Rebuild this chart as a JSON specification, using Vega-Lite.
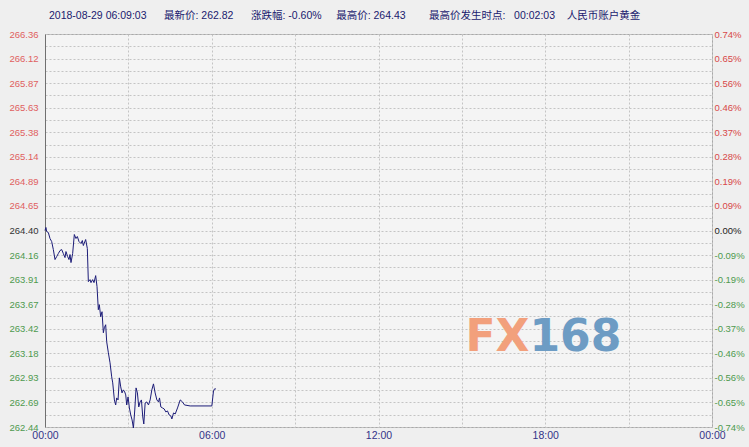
{
  "$schema": "https://vega.github.io/schema/vega-lite/v6.json",
  "autosize": {"type": "none"},
  "width": 667,
  "height": 393,
  "padding": {"left": 45, "top": 34, "right": 37, "bottom": 20},
  "background": "#efefef",
  "title": {
    "text": "2018-08-29 06:09:03\u00a0\u00a0\u00a0\u00a0\u00a0\u00a0最新价: 262.82\u00a0\u00a0\u00a0\u00a0\u00a0\u00a0涨跌幅: -0.60%\u00a0\u00a0\u00a0\u00a0\u00a0最高价: 264.43\u00a0\u00a0\u00a0\u00a0\u00a0\u00a0\u00a0\u00a0最高价发生时点:\u00a0\u00a0 00:02:03\u00a0\u00a0\u00a0\u00a0人民币账户黄金",
    "anchor": "start",
    "frame": "group",
    "dx": 4,
    "offset": 8,
    "font": "Liberation Sans, Noto Sans CJK SC",
    "fontSize": 10.5,
    "fontWeight": "normal",
    "color": "#1a1a6e"
  },
  "config": {
    "view": {"fill": "#f4f4f4", "stroke": "#a8a8a8", "strokeWidth": 1},
    "axis": {"labelFont": "Liberation Sans", "labelFontSize": 10, "ticks": false}
  },
  "datasets": {
    "gold": [
      {"minute": 0, "price": 264.40},
      {"minute": 2.05, "price": 264.43},
      {"minute": 3.6, "price": 264.39},
      {"minute": 7.2, "price": 264.38},
      {"minute": 10.8, "price": 264.32},
      {"minute": 14.4, "price": 264.29},
      {"minute": 18, "price": 264.21},
      {"minute": 21.6, "price": 264.11},
      {"minute": 25.2, "price": 264.14},
      {"minute": 28.8, "price": 264.17},
      {"minute": 32.4, "price": 264.20},
      {"minute": 36, "price": 264.21},
      {"minute": 39.6, "price": 264.17},
      {"minute": 43.2, "price": 264.13},
      {"minute": 45.3, "price": 264.19},
      {"minute": 48.9, "price": 264.14},
      {"minute": 51.8, "price": 264.11},
      {"minute": 54, "price": 264.16},
      {"minute": 56.1, "price": 264.08},
      {"minute": 59.7, "price": 264.17},
      {"minute": 63.3, "price": 264.36},
      {"minute": 66.9, "price": 264.32},
      {"minute": 69.8, "price": 264.34},
      {"minute": 73.4, "price": 264.29},
      {"minute": 77.7, "price": 264.27},
      {"minute": 80.6, "price": 264.30},
      {"minute": 82.8, "price": 264.25},
      {"minute": 87.8, "price": 264.31},
      {"minute": 91.4, "price": 264.22},
      {"minute": 93.6, "price": 263.89},
      {"minute": 97.2, "price": 263.91},
      {"minute": 99.3, "price": 263.88},
      {"minute": 102.9, "price": 263.91},
      {"minute": 105.8, "price": 263.88},
      {"minute": 109.4, "price": 263.95},
      {"minute": 112.3, "price": 263.84},
      {"minute": 115.1, "price": 263.61},
      {"minute": 117.3, "price": 263.66},
      {"minute": 120.2, "price": 263.54},
      {"minute": 123.1, "price": 263.59},
      {"minute": 126, "price": 263.38},
      {"minute": 128.1, "price": 263.43},
      {"minute": 131, "price": 263.46},
      {"minute": 133.2, "price": 263.29},
      {"minute": 136.8, "price": 263.18},
      {"minute": 140.4, "price": 263.08},
      {"minute": 144, "price": 262.94},
      {"minute": 146.2, "price": 262.88},
      {"minute": 149.8, "price": 262.71},
      {"minute": 152.6, "price": 262.66},
      {"minute": 154.8, "price": 262.73},
      {"minute": 157.7, "price": 262.71},
      {"minute": 160.6, "price": 262.93},
      {"minute": 163.5, "price": 262.84},
      {"minute": 166.3, "price": 262.78},
      {"minute": 169.2, "price": 262.81},
      {"minute": 172.1, "price": 262.79},
      {"minute": 174.3, "price": 262.76},
      {"minute": 176.4, "price": 262.66},
      {"minute": 179.3, "price": 262.74},
      {"minute": 182.2, "price": 262.63},
      {"minute": 185.1, "price": 262.56},
      {"minute": 188, "price": 262.51},
      {"minute": 190.9, "price": 262.43},
      {"minute": 193.8, "price": 262.61},
      {"minute": 196.6, "price": 262.83},
      {"minute": 199.5, "price": 262.78},
      {"minute": 202.4, "price": 262.64},
      {"minute": 205.3, "price": 262.69},
      {"minute": 208.2, "price": 262.71},
      {"minute": 211.1, "price": 262.54},
      {"minute": 213.3, "price": 262.47},
      {"minute": 216.2, "price": 262.68},
      {"minute": 219.8, "price": 262.69},
      {"minute": 223.4, "price": 262.66},
      {"minute": 227, "price": 262.71},
      {"minute": 230.6, "price": 262.81},
      {"minute": 234.2, "price": 262.87},
      {"minute": 237.8, "price": 262.78},
      {"minute": 241.5, "price": 262.71},
      {"minute": 245.1, "price": 262.69},
      {"minute": 247.2, "price": 262.73},
      {"minute": 250.1, "price": 262.64},
      {"minute": 253.7, "price": 262.63},
      {"minute": 257.3, "price": 262.62},
      {"minute": 260.9, "price": 262.59},
      {"minute": 264.5, "price": 262.60},
      {"minute": 268.1, "price": 262.56},
      {"minute": 271.7, "price": 262.55},
      {"minute": 273.9, "price": 262.52},
      {"minute": 277.5, "price": 262.58},
      {"minute": 281.1, "price": 262.57},
      {"minute": 286.1, "price": 262.63},
      {"minute": 291.9, "price": 262.71},
      {"minute": 296.9, "price": 262.69},
      {"minute": 301.2, "price": 262.66},
      {"minute": 313.4, "price": 262.65},
      {"minute": 360.2, "price": 262.65},
      {"minute": 363.8, "price": 262.80},
      {"minute": 366, "price": 262.82},
      {"minute": 369, "price": 262.82}
    ]
  },
  "layer": [
    {
      "data": {"values": [{"part": "FX"}]},
      "mark": {"type": "text", "align": "right", "baseline": "middle", "font": "DejaVu Sans", "fontWeight": "bold", "fontSize": 44, "color": "#f2a07c"},
      "encoding": {
        "x": {"datum": 1046, "type": "quantitative", "scale": {"domain": [0, 1440], "nice": false, "zero": false}},
        "y": {"datum": 263.33, "type": "quantitative", "scale": {"domain": [262.44, 266.36], "nice": false, "zero": false}, "axis": null},
        "text": {"field": "part"}
      }
    },
    {
      "data": {"values": [{"part": "168"}]},
      "mark": {"type": "text", "align": "left", "baseline": "middle", "font": "DejaVu Sans", "fontWeight": "bold", "fontSize": 44, "color": "#6d9cc4"},
      "encoding": {
        "x": {"datum": 1046, "type": "quantitative"},
        "y": {"datum": 263.33, "type": "quantitative", "axis": null},
        "text": {"field": "part"}
      }
    },
    {
      "data": {"name": "gold"},
      "mark": {"type": "line", "color": "#1c1c78", "strokeWidth": 1, "interpolate": "linear"},
      "encoding": {
        "x": {
          "field": "minute", "type": "quantitative",
          "scale": {"domain": [0, 1440], "nice": false, "zero": false},
          "axis": {
            "title": null,
            "values": [0, 180, 360, 540, 720, 900, 1080, 1260, 1440],
            "labelExpr": "datum.value % 360 == 0 ? ((floor(datum.value / 60) % 24 < 10 ? '0' : '') + (floor(datum.value / 60) % 24) + ':00') : ''",
            "labelColor": "#333388",
            "labelFontSize": 10.5,
            "labelPadding": 3,
            "domain": false,
            "grid": true,
            "gridColor": "#c4c4c4",
            "gridDash": [2, 2],
            "labelFlush": false,
            "labelOverlap": false
          }
        },
        "y": {
          "field": "price", "type": "quantitative",
          "scale": {"domain": [262.44, 266.36], "nice": false, "zero": false},
          "axis": {
            "title": null,
            "orient": "left",
            "values": [262.44, 262.5625, 262.685, 262.8075, 262.93, 263.0525, 263.175, 263.2975, 263.42, 263.5425, 263.665, 263.7875, 263.91, 264.0325, 264.155, 264.2775, 264.4, 264.5225, 264.645, 264.7675, 264.89, 265.0125, 265.135, 265.2575, 265.38, 265.5025, 265.625, 265.7475, 265.87, 265.9925, 266.115, 266.2375, 266.36],
            "labelExpr": "round((datum.value - 262.44) / 0.1225) % 2 == 0 ? format(datum.value + 0.0001, '.2f') : ''",
            "labelColor": {"expr": "datum.value > 264.41 ? '#e06060' : (datum.value < 264.39 ? '#4e9a4e' : '#333333')"},
            "labelPadding": 7,
            "labelFontSize": 9.5,
            "labelOverlap": false,
            "labelFlush": false,
            "domain": true,
            "domainColor": "#707070",
            "grid": true,
            "gridColor": "#c4c4c4",
            "gridDash": [2, 2]
          }
        }
      }
    },
    {
      "data": {"name": "gold"},
      "mark": {"type": "line", "opacity": 0},
      "encoding": {
        "x": {"field": "minute", "type": "quantitative"},
        "y": {
          "field": "price", "type": "quantitative",
          "axis": {
            "title": null,
            "orient": "right",
            "values": [262.44, 262.685, 262.93, 263.175, 263.42, 263.665, 263.91, 264.155, 264.4, 264.645, 264.89, 265.135, 265.38, 265.625, 265.87, 266.115, 266.36],
            "labelExpr": "(datum.value < 264.39 ? '-' : '') + format(abs((datum.value - 264.4) / 264.4 * 100), '.2f') + '%'",
            "labelColor": {"expr": "datum.value > 264.41 ? '#d84848' : (datum.value < 264.39 ? '#4e9a4e' : '#222222')"},
            "labelPadding": 2,
            "labelFontSize": 9.5,
            "labelOverlap": false,
            "labelFlush": false,
            "domain": false,
            "grid": false
          }
        }
      }
    }
  ],
  "resolve": {"axis": {"y": "independent"}}
}
